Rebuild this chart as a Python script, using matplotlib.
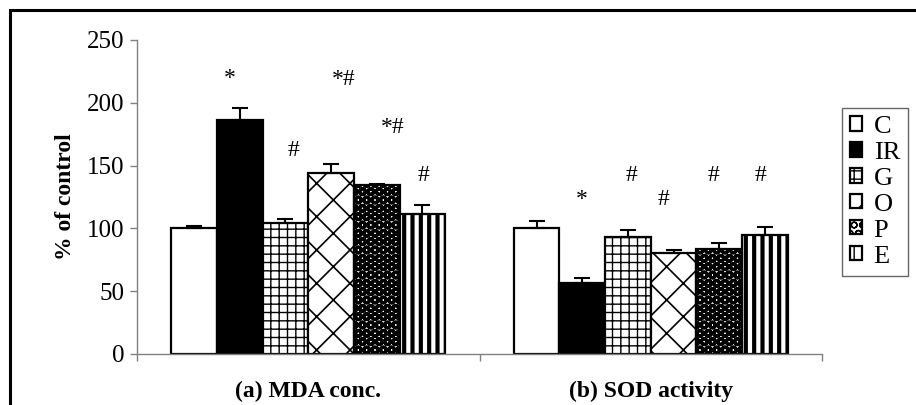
import numpy as np
import matplotlib
matplotlib.use("Agg")
import matplotlib.pyplot as plt
from matplotlib.patches import Rectangle

plt.rcParams['font.family'] = ['Liberation Serif', 'DejaVu Serif']

# ── Data ──────────────────────────────────────────────────────────────────────
groups = ['(a) MDA conc.', '(b) SOD activity']
series = ['C', 'IR', 'G', 'O', 'P', 'E']
# one row per series: [MDA, SOD]
values = [[100, 100],     # C
          [186, 56.5],    # IR
          [104, 93],      # G
          [144, 80.5],    # O
          [134.5, 83.5],  # P
          [111.5, 94.5]]  # E
errors = [[2, 6],
          [10, 4],
          [3.5, 6],
          [7, 2],
          [1, 5],
          [7, 7]]
yticks = [0, 50, 100, 150, 200, 250]

# significance marks: text per group/series, and baseline level
marks = [['', '*', '#', '*#', '*#', '#'],
         ['', '*', '#', '#', '#', '#']]
mark_y = [[0, 215, 158, 214, 176, 138],
          [0, 119, 138, 119, 138, 138]]
mark_dx = [[0, -10, 8, 13, 16, 1],     # pixel nudges
           [0, 0, 4, -10, -6, -4]]

# ── Styles ────────────────────────────────────────────────────────────────────
faces   = ['white', 'black', 'white', 'white', 'white', 'white']
hatches = [None, None, '++', 'x', 'OO', '||']
hlw     = [1, 1, 1.0, 1.2, 2.3, 3.0]

W, H = 916, 405
fig = plt.figure(figsize=(W / 100, H / 100), dpi=100)
ax = fig.add_axes([137 / W, 1 - 354 / H, (822 - 137) / W, (354 - 40) / H])

x = np.arange(len(groups))
bw = 0.8 / len(series)
handles = []
for i, name in enumerate(series):
    with plt.rc_context({'hatch.linewidth': hlw[i]}):
        b = ax.bar(x + (i - 2.5) * bw, values[i], bw, color=faces[i],
                   edgecolor='black', linewidth=1.6, hatch=hatches[i],
                   label=name, zorder=2)
    for p in b:
        if hasattr(p, 'set_hatch_linewidth'):
            p.set_hatch_linewidth(hlw[i])
    ax.errorbar(x + (i - 2.5) * bw, values[i], yerr=[[0, 0], errors[i]],
                fmt='none', ecolor='black', elinewidth=1.5, capsize=6,
                capthick=1.5, zorder=3)
    handles.append(b)

# significance marks
for g in range(len(groups)):
    for i in range(len(series)):
        if marks[g][i]:
            ax.annotate(marks[g][i], (x[g] + (i - 2.5) * bw, mark_y[g][i]),
                        xytext=(mark_dx[g][i] * 0.72, 0), textcoords='offset points',
                        ha='center', va='baseline', fontsize=17)

ax.set_xlim(-0.5, 1.5)
ax.set_ylim(0, 250)
ax.set_yticks(yticks)
ax.tick_params(axis='y', labelsize=18, length=5, width=1, color='#808080', pad=4)
ax.set_xticks(x)
ax.set_xticklabels(groups, fontsize=17, fontweight='bold')
ax.tick_params(axis='x', which='major', length=0, pad=19)
ax.set_xticks([-0.5, 0.5, 1.5], minor=True)
ax.tick_params(axis='x', which='minor', length=5, width=1, color='#808080')
ax.set_ylabel('% of control', fontsize=17, fontweight='bold', labelpad=8)

for s in ['top', 'right']:
    ax.spines[s].set_visible(False)
for s in ['left', 'bottom']:
    ax.spines[s].set_color('#808080')
    ax.spines[s].set_linewidth(1)

leg = fig.legend(handles=handles, labels=series, loc='upper left',
                 bbox_to_anchor=(842 / W, 1 - 108 / H), fontsize=19,
                 frameon=True, fancybox=False, edgecolor='#404040',
                 handlelength=0.45, handleheight=0.45, handletextpad=0.45,
                 labelspacing=0.15, borderpad=0.3, borderaxespad=0)
leg.get_frame().set_linewidth(1)

# outer chart frame
fig.patches.append(Rectangle((10 / W, -0.2), 1.2, 1.2 - 10 / H,
                             transform=fig.transFigure, fill=False,
                             edgecolor='black', linewidth=2.2, zorder=10))

fig.savefig('out.png', dpi=100)
